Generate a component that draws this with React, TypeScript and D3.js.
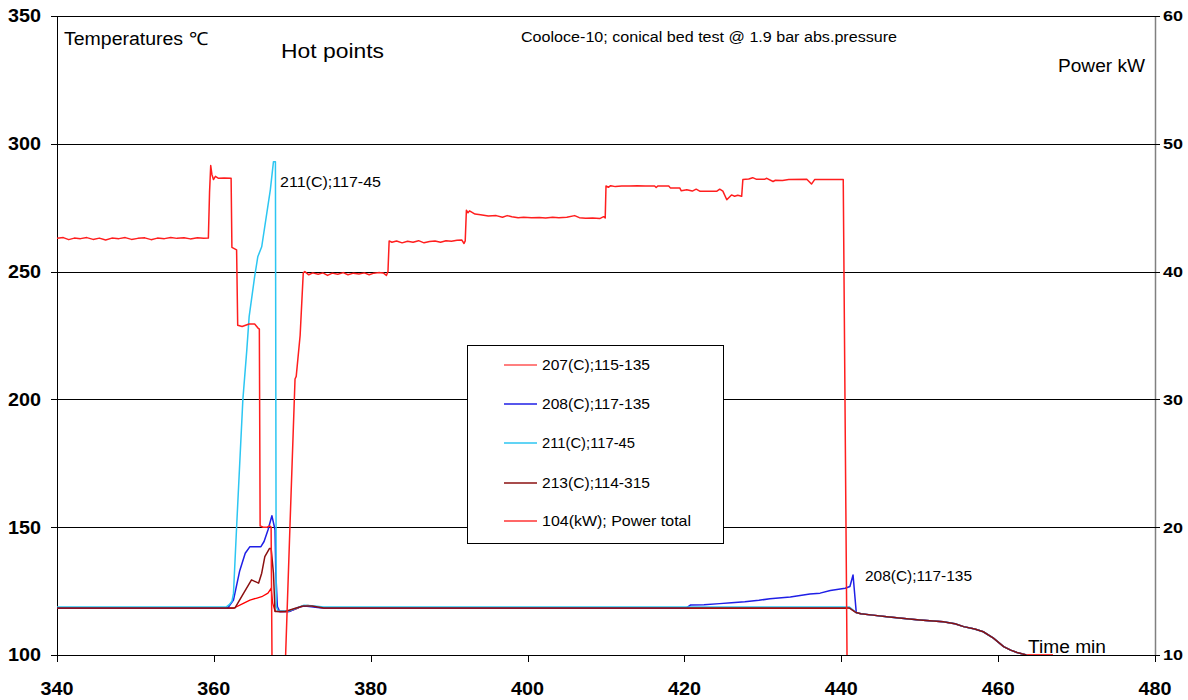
import React from 'react';
import * as d3 from 'd3';

// ---- axis ticks ----
const timeTicks = [340, 360, 380, 400, 420, 440, 460, 480];
const tempTicks = [100, 150, 200, 250, 300, 350];
const powerTicks = [10, 20, 30, 40, 50, 60];
const gridTemps = [150, 200, 250, 300];

// ---- measured series: [time min, value] ----
// common cool-down tail shared by the thermocouples
const tailCommon: [number, number][] = [
  [441.9, 116.6], [442.5, 116.1], [444.0, 115.6], [445.8, 115.0], [448.0, 114.3], [450.0, 113.7],
  [453.0, 113.0], [454.5, 112.2], [455.6, 111.1], [457.0, 110.2], [458.1, 109.1], [459.4, 106.6],
  [460.7, 103.3], [461.6, 101.9], [462.4, 101.0], [463.6, 100.0],
];

const t207: [number, number][] = [
  [340, 118.3], [362.5, 118.3], [363.5, 119.8], [364.6, 121.5], [365.5, 122.3], [366.1, 122.8],
  [366.9, 124.2], [367.3, 126.1], [367.5, 120.3], [367.8, 117.2], [368.5, 116.9], [369.5, 117.0],
  [370.5, 118.0], [371.3, 119.2], [372.0, 119.4], [373.0, 118.8], [374.0, 118.3], [440.6, 118.3],
  [441.1, 118.5], [441.5, 117.4],
];
const t207End: [number, number][] = [[467.0, 100.0]];

const t208: [number, number][] = [
  [340, 118.5], [361.8, 118.5], [362.5, 121.5], [363.3, 133.0], [364.0, 139.8], [364.6, 142.4],
  [366.0, 142.4], [366.4, 144.4], [366.9, 148.9], [367.4, 154.5], [367.8, 149.0], [367.9, 132.0],
  [368.1, 118.9], [368.4, 117.0], [369.6, 117.0], [371.0, 118.9], [371.6, 119.2], [373.5, 118.5],
  [420.3, 118.5], [420.8, 119.6], [422.5, 119.7], [424.5, 120.1], [426.0, 120.4], [427.7, 120.8],
  [429.5, 121.4], [430.9, 122.0], [433.5, 122.7], [436.0, 123.9], [437.3, 124.2], [438.6, 125.2],
  [440.5, 126.1], [441.1, 126.8], [441.5, 131.3], [441.9, 117.0],
];

const t211: [number, number][] = [
  [340, 118.8], [361.6, 118.8], [362.0, 119.8], [362.3, 121.0], [362.5, 124.0], [362.9, 150.0],
  [363.7, 200.0], [364.2, 219.3], [364.5, 232.4], [365.2, 248.0], [365.6, 255.8], [366.1, 259.7],
  [367.2, 282.0], [367.6, 293.0], [367.85, 293.0], [367.95, 119.0], [368.2, 117.2], [369.5, 117.2],
  [370.5, 118.3], [371.5, 119.5], [372.5, 119.3], [374.0, 118.8], [441.0, 118.8],
];

const t213: [number, number][] = [
  [340, 118.4], [362.7, 118.4], [363.8, 124.2], [364.8, 129.4], [365.7, 128.1], [366.1, 132.0],
  [366.5, 138.5], [367.1, 141.7], [367.3, 141.7], [367.6, 132.0], [367.8, 117.0], [369.1, 117.0],
  [370.3, 118.2], [371.4, 119.2], [372.5, 119.2], [374.0, 118.4], [441.0, 118.4],
];

// total heating power, kW (right axis)
const power104: [number, number][] = [
  [340, 42.6], [340.8, 42.66], [341.5, 42.5], [342.2, 42.62], [343, 42.58], [343.8, 42.66],
  [344.6, 42.52], [345.4, 42.62], [346.2, 42.47], [347, 42.62], [347.9, 42.58], [348.7, 42.66],
  [349.5, 42.52], [350.3, 42.6], [351.2, 42.64], [352, 42.5], [352.8, 42.62], [353.7, 42.58],
  [354.5, 42.66], [355.3, 42.6], [356.2, 42.64], [357, 42.56], [357.9, 42.64], [358.7, 42.6],
  [359.3, 42.62], [359.45, 46.2], [359.6, 48.3], [359.75, 47.6], [359.95, 47.2], [360.2, 47.45],
  [360.6, 47.3], [361.3, 47.32], [362.2, 47.3], [362.3, 41.9], [362.9, 41.7], [363.04, 35.8],
  [363.6, 35.7], [364.5, 35.9], [365.2, 35.9], [365.6, 35.6], [365.8, 35.5], [365.9, 20.1],
  [366.3, 20.0], [366.8, 20.0], [367.1, 20.1], [367.3, 20.0], [367.52, 0], [368.6, 0],
  [369.7, 20.0], [370.35, 31.6], [370.5, 31.8], [371.0, 35.0], [371.4, 39.9], [371.6, 40.0],
  [372.1, 39.75], [372.6, 39.9], [373.3, 39.8], [373.9, 39.9], [374.5, 39.7], [375.1, 39.88],
  [375.8, 39.8], [376.5, 39.92], [377.1, 39.75], [377.8, 39.88], [378.5, 39.82], [379.2, 39.9],
  [379.8, 39.75], [380.4, 39.88], [381.0, 39.92], [381.6, 39.9], [382.0, 39.7], [382.2, 40.0],
  [382.35, 42.4], [382.7, 42.3], [383.3, 42.4], [384, 42.25], [384.7, 42.38], [385.4, 42.3],
  [386.1, 42.42], [386.8, 42.25], [387.5, 42.35], [388.2, 42.4], [388.9, 42.3], [389.6, 42.42],
  [390.3, 42.38], [391.0, 42.45], [391.6, 42.48], [391.9, 42.2], [392.05, 42.4], [392.2, 44.8],
  [392.4, 44.6], [392.6, 44.75], [393.3, 44.5], [394.0, 44.45], [395.0, 44.35], [396.0, 44.38],
  [396.8, 44.25], [397.4, 44.38], [398, 44.3], [398.8, 44.22], [399.5, 44.25], [400.5, 44.22],
  [401.5, 44.24], [402.3, 44.2], [403.2, 44.26], [404, 44.22], [405, 44.25], [406, 44.38],
  [406.6, 44.22], [407.4, 44.18], [408.3, 44.2], [409.2, 44.15], [409.7, 44.3], [409.9, 44.2],
  [410.0, 46.7], [410.3, 46.6], [410.6, 46.72], [411.2, 46.65], [412, 46.7], [413, 46.7],
  [414, 46.72], [415, 46.7], [416.2, 46.7], [416.4, 46.58], [416.6, 46.7], [418.0, 46.7],
  [418.2, 46.55], [419.4, 46.55], [419.6, 46.32], [420.3, 46.4], [421, 46.3], [421.5, 46.45],
  [422, 46.28], [423, 46.28], [424.1, 46.28], [424.5, 46.45], [424.9, 46.3], [425.4, 45.62],
  [426.0, 46.0], [426.4, 45.9], [426.8, 45.98], [427.3, 45.9], [427.45, 47.2], [428.2, 47.25],
  [428.7, 47.35], [429.2, 47.22], [430.2, 47.22], [430.5, 47.3], [431.3, 47.05], [431.6, 47.15],
  [432.5, 47.12], [433.3, 47.2], [435.6, 47.22], [436.2, 46.85], [436.6, 47.2], [440.25, 47.2],
  [440.86, 0],
];

const legendNames = ['207(C);115-135', '208(C);117-135', '211(C);117-45', '213(C);114-315', '104(kW);  Power total'];
const legendWidths = [108, 108, 93, 108, 149];
const legendColors = ['#ff0000', '#1f1fe6', '#2cc6f2', '#8b1010', '#ff3535'];

const FONT = "'Liberation Sans', Arial, Helvetica, sans-serif";

export default function App() {
  const left = 57, right = 1155, top = 16, bottom = 655;
  const x = d3.scaleLinear().domain([340, 480]).range([left, right]);
  const yT = d3.scaleLinear().domain([100, 350]).range([bottom, top]);
  const yP = d3.scaleLinear().domain([10, 60]).range([bottom, top]);

  const lineT = d3.line<[number, number]>().x(d => x(d[0])).y(d => yT(d[1]));
  const lineP = d3.line<[number, number]>().x(d => x(d[0])).y(d => yP(d[1]));

  const series = [
    { key: 's207', d: lineT([...t207, ...tailCommon, ...t207End]), color: legendColors[0], w: 1.3 },
    { key: 's208', d: lineT([...t208, ...tailCommon]), color: legendColors[1], w: 1.5 },
    { key: 's211', d: lineT([...t211, ...tailCommon]), color: legendColors[2], w: 1.5 },
    { key: 's213', d: lineT([...t213, ...tailCommon]), color: legendColors[3], w: 1.5 },
    { key: 'p104', d: lineP(power104), color: '#ff1e1e', w: 1.5 },
  ];

  const legendX = 467, legendY = 345, legendW = 256, legendH = 198;
  const rowY = [365, 404, 443, 483, 521];

  const label = (tx: number, ty: number, size: number, len: number, s: string) => (
    <text x={tx} y={ty} fontSize={size} fill="#000" textLength={len} lengthAdjust="spacingAndGlyphs">{s}</text>
  );

  return (
    <svg width={1188} height={700} style={{ position: 'absolute', left: 0, top: 0, background: '#fff' }}
      fontFamily={FONT}>
      <defs>
        <clipPath id="plotClip">
          <rect x={left} y={top} width={right - left} height={bottom - top} />
        </clipPath>
      </defs>
      <rect x={0} y={0} width={1188} height={700} fill="#fff" />

      {/* horizontal grid */}
      {gridTemps.map(v => (
        <line key={'g' + v} x1={left} x2={right} y1={Math.round(yT(v)) + 0.5} y2={Math.round(yT(v)) + 0.5}
          stroke="#000" strokeWidth={1} />
      ))}
      {/* frame */}
      <line x1={left} x2={right} y1={top + 0.5} y2={top + 0.5} stroke="#000" strokeWidth={1} />
      <line x1={left} x2={right} y1={bottom + 0.5} y2={bottom + 0.5} stroke="#000" strokeWidth={1} />
      <line x1={left + 0.5} x2={left + 0.5} y1={top} y2={bottom + 1} stroke="#000" strokeWidth={1} />
      <line x1={right + 0.5} x2={right + 0.5} y1={top} y2={bottom + 1} stroke="#808080" strokeWidth={1.5} />

      {/* left axis ticks and labels */}
      {tempTicks.map(v => (
        <g key={'lt' + v}>
          <line x1={left - 6} x2={left} y1={Math.round(yT(v)) + 0.5} y2={Math.round(yT(v)) + 0.5} stroke="#000" />
          <text x={41} y={yT(v)} dy="0.36em" textAnchor="end" fontSize={18} fontWeight="bold" fill="#000"
            textLength={33} lengthAdjust="spacingAndGlyphs">{v}</text>
        </g>
      ))}
      {/* right axis ticks and labels */}
      {powerTicks.map(v => (
        <g key={'rt' + v}>
          <line x1={right - 4} x2={right + 5} y1={Math.round(yP(v)) + 0.5} y2={Math.round(yP(v)) + 0.5} stroke="#000" />
          <text x={1163} y={yP(v)} dy="0.36em" textAnchor="start" fontSize={15} fontWeight="bold" fill="#000"
            textLength={20} lengthAdjust="spacingAndGlyphs">{v}</text>
        </g>
      ))}
      {/* bottom axis ticks and labels */}
      {timeTicks.map(v => (
        <g key={'bt' + v}>
          <line x1={Math.round(x(v)) + 0.5} x2={Math.round(x(v)) + 0.5} y1={bottom} y2={bottom + 7} stroke="#000" />
          <text x={x(v)} y={695} textAnchor="middle" fontSize={18} fontWeight="bold" fill="#000"
            textLength={33} lengthAdjust="spacingAndGlyphs">{v}</text>
        </g>
      ))}

      {/* data lines */}
      <g clipPath="url(#plotClip)">
        {series.map(s => (
          <path key={s.key} d={s.d || ''} fill="none" stroke={s.color} strokeWidth={s.w} strokeLinejoin="round" />
        ))}
      </g>

      {/* titles and annotations */}
      {label(64, 45, 18, 144, 'Temperatures ℃')}
      {label(281, 58, 21, 103, 'Hot points')}
      {label(521, 42, 14, 376, 'Cooloce-10; conical bed test @ 1.9 bar abs.pressure')}
      {label(1058, 72, 18, 87, 'Power kW')}
      {label(280, 187, 15, 101, '211(C);117-45')}
      {label(865, 581, 15, 107, '208(C);117-135')}
      {label(1028, 653, 18, 78, 'Time min')}

      {/* legend */}
      <rect x={legendX + 0.5} y={legendY + 0.5} width={legendW} height={legendH} fill="#fff" stroke="#000" strokeWidth={1} />
      {legendNames.map((n, i) => (
        <g key={n}>
          <line x1={504} x2={537} y1={rowY[i]} y2={rowY[i]} stroke={legendColors[i]} strokeWidth={i === 0 ? 1.2 : 1.6} />
          <text x={542} y={rowY[i]} dy="0.36em" fontSize={15} fill="#000"
            textLength={legendWidths[i]} lengthAdjust="spacingAndGlyphs">{n}</text>
        </g>
      ))}
    </svg>
  );
}
